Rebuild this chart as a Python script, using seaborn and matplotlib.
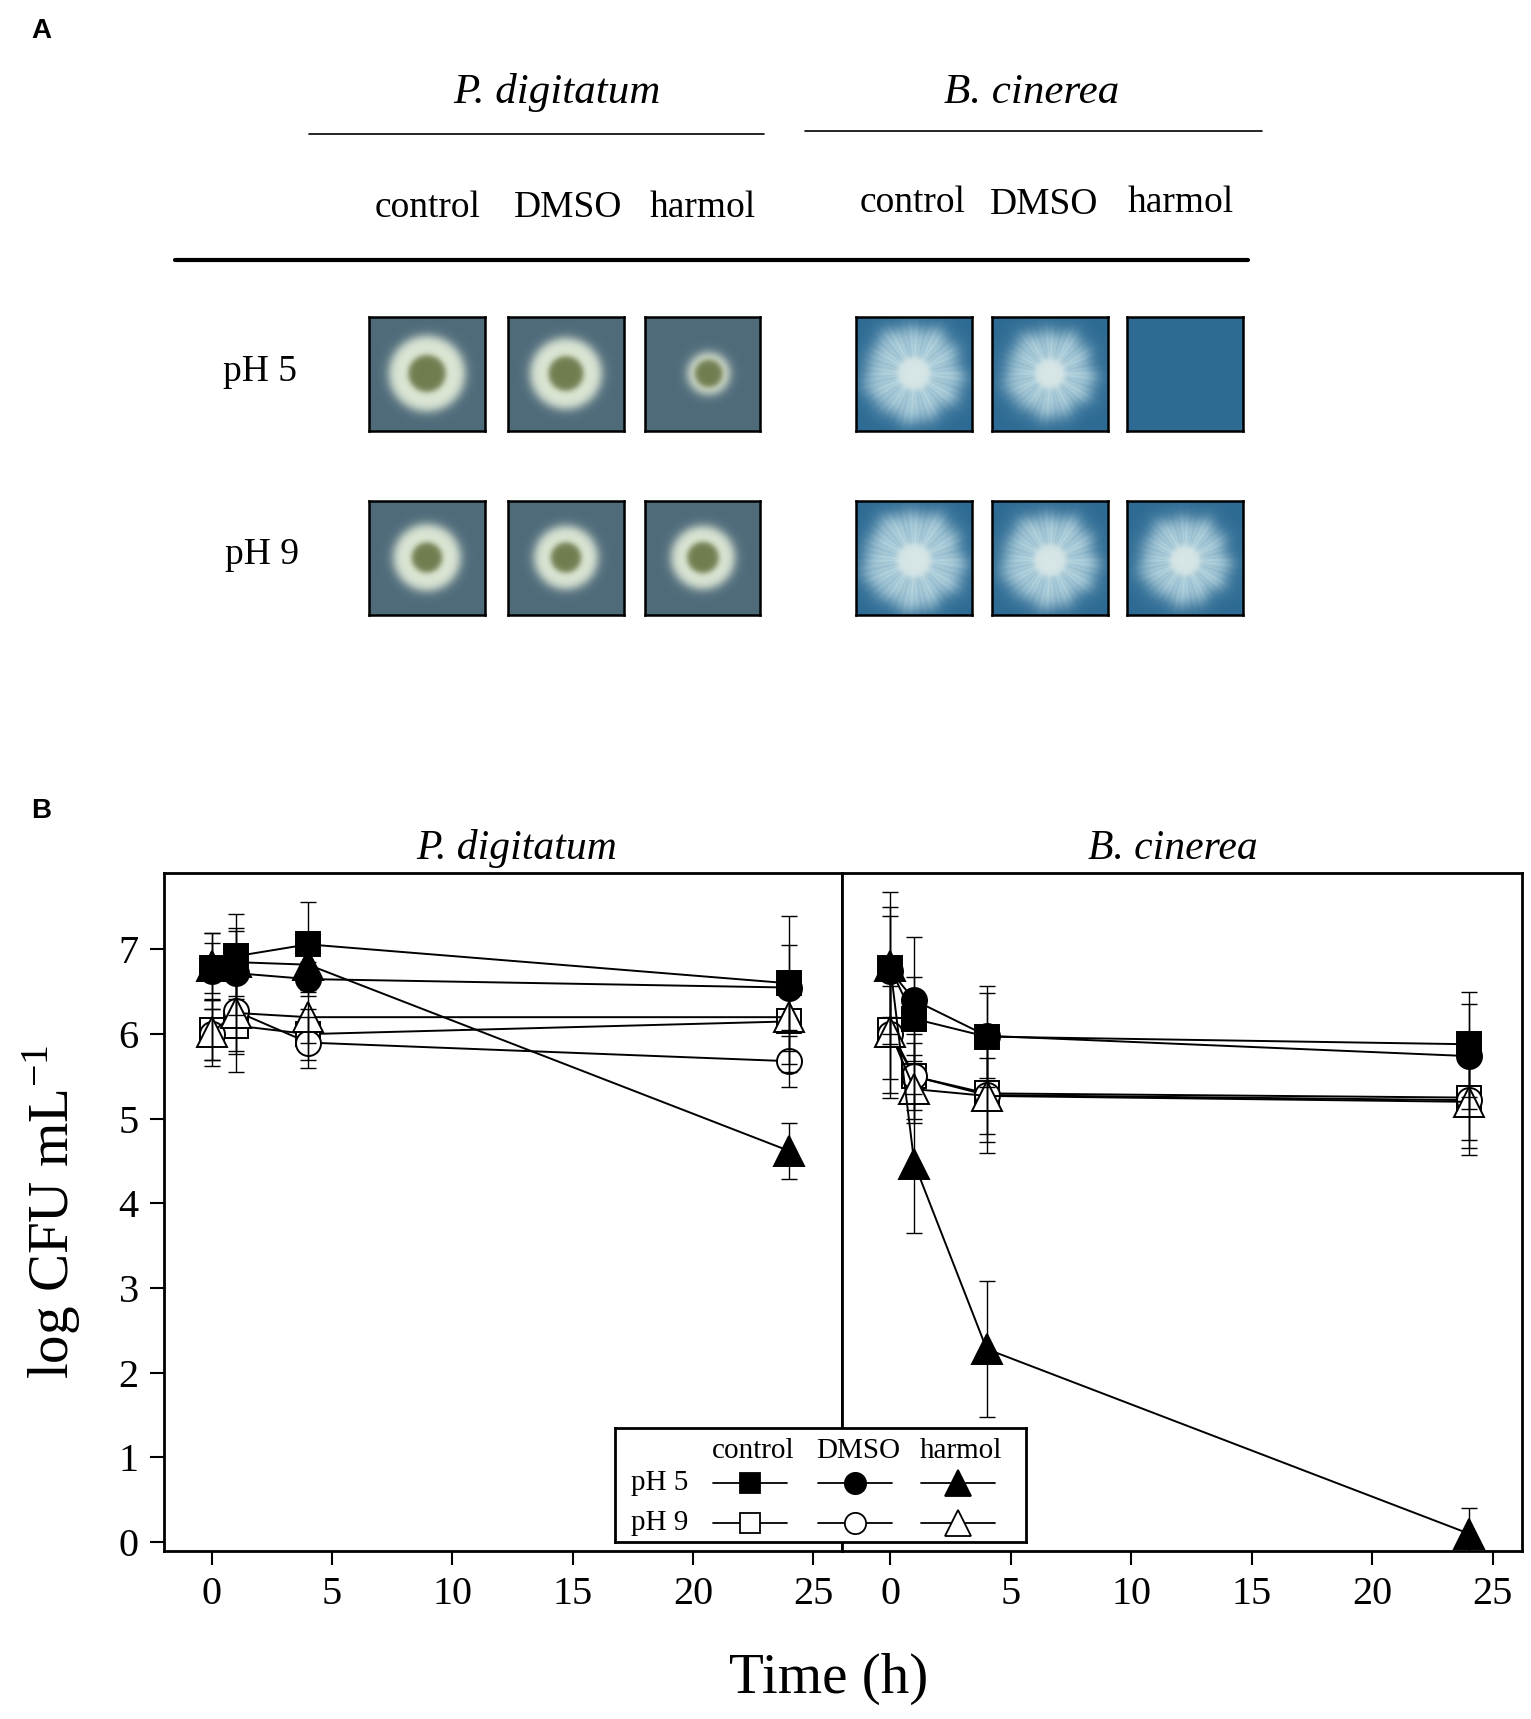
import numpy as np
import pandas as pd
import matplotlib
matplotlib.use("Agg")
import matplotlib.pyplot as plt
import seaborn as sns

sns.set_theme(style="ticks")
plt.rcParams.update({
    "font.family": ["Liberation Serif", "DejaVu Serif"],
    "mathtext.fontset": "stix",
    "axes.edgecolor": "black",
    "axes.linewidth": 2,
    "text.color": "black",
    "axes.labelcolor": "black",
    "xtick.color": "black",
    "ytick.color": "black",
})

# ---- data (log CFU/mL) ----
times = [0, 1, 4, 24]
treatments = ["control", "DMSO", "harmol"]
ph_levels = ["pH 5", "pH 9"]

pd_ctrl5 = [6.78, 6.92, 7.06, 6.60]
pd_dmso5 = [6.75, 6.72, 6.65, 6.55]
pd_harm5 = [6.80, 6.85, 6.82, 4.62]
pd_ctrl9 = [6.05, 6.10, 6.00, 6.15]
pd_dmso9 = [6.00, 6.27, 5.90, 5.68]
pd_harm9 = [6.02, 6.25, 6.20, 6.20]
pd_ctrl5_err = [0.30, 0.50, 0.50, 0.80]
pd_dmso5_err = [0.45, 0.50, 0.20, 0.50]
pd_harm5_err = [0.40, 0.40, 0.30, 0.33]
pd_ctrl9_err = [0.35, 0.55, 0.30, 0.60]
pd_dmso9_err = [0.30, 0.50, 0.30, 0.30]
pd_harm9_err = [0.40, 0.45, 0.30, 0.55]

bc_ctrl5 = [6.78, 6.18, 5.97, 5.88]
bc_dmso5 = [6.75, 6.40, 5.98, 5.74]
bc_harm5 = [6.80, 4.47, 2.28, 0.10]
bc_ctrl9 = [6.05, 5.50, 5.30, 5.25]
bc_dmso9 = [6.00, 5.50, 5.28, 5.22]
bc_harm9 = [6.02, 5.35, 5.27, 5.20]
bc_ctrl5_err = [0.90, 0.50, 0.60, 0.62]
bc_dmso5_err = [0.75, 0.75, 0.50, 0.62]
bc_harm5_err = [0.60, 0.82, 0.80, 0.30]
bc_ctrl9_err = [0.80, 0.40, 0.70, 0.60]
bc_dmso9_err = [0.70, 0.50, 0.55, 0.65]
bc_harm9_err = [0.55, 0.40, 0.45, 0.45]

# colony radii on the plate photos (fraction of half width), row pH5 then pH9
pd_colony_outer = [[0.66, 0.62, 0.36], [0.58, 0.55, 0.55]]
pd_colony_core = [[0.32, 0.30, 0.24], [0.26, 0.26, 0.27]]
bc_colony = [[0.82, 0.75, 0.0], [0.85, 0.80, 0.75]]

rows = []
for org, series in [
    ("P. digitatum", [(pd_ctrl5, pd_ctrl5_err), (pd_dmso5, pd_dmso5_err), (pd_harm5, pd_harm5_err),
                      (pd_ctrl9, pd_ctrl9_err), (pd_dmso9, pd_dmso9_err), (pd_harm9, pd_harm9_err)]),
    ("B. cinerea", [(bc_ctrl5, bc_ctrl5_err), (bc_dmso5, bc_dmso5_err), (bc_harm5, bc_harm5_err),
                    (bc_ctrl9, bc_ctrl9_err), (bc_dmso9, bc_dmso9_err), (bc_harm9, bc_harm9_err)]),
]:
    for k, (vals, errs) in enumerate(series):
        for t, v, e in zip(times, vals, errs):
            rows.append({"org": org, "ph": ph_levels[k // 3], "trt": treatments[k % 3],
                         "time": t, "cfu": v, "err": e})
df = pd.DataFrame(rows)

markers = {"control": "s", "DMSO": "o", "harmol": "^"}
msizes = {"control": 17, "DMSO": 18, "harmol": 22}
faces = {"pH 5": "black", "pH 9": "white"}

fig = plt.figure(figsize=(15.31, 17.19), dpi=100)

# ---- panel A (drawn in figure fractions) ----
bg = fig.add_axes([0, 0, 1, 1])
bg.set_xlim(0, 1)
bg.set_ylim(0, 1)
bg.axis("off")

fig.text(0.027, 0.982, "A", fontsize=20, fontweight="bold", family="Liberation Sans", ha="center", va="center")
fig.text(0.027, 0.528, "B", fontsize=20, fontweight="bold", family="Liberation Sans", ha="center", va="center")

fig.text(0.364, 0.946, "P. digitatum", fontsize=31, style="italic", ha="center", va="center")
fig.text(0.674, 0.946, "B. cinerea", fontsize=31, style="italic", ha="center", va="center")
bg.plot([0.202, 0.499], [0.922, 0.922], color="black", lw=1.2)
bg.plot([0.526, 0.824], [0.924, 0.924], color="black", lw=1.2)
bg.plot([0.114, 0.815], [0.849, 0.849], color="black", lw=3)

col_x = [0.279, 0.371, 0.459, 0.596, 0.682, 0.771]
col_y = [0.879, 0.879, 0.879, 0.882, 0.881, 0.882]
for x, y, lab in zip(col_x, col_y, treatments * 2):
    fig.text(x, y, lab, fontsize=27, ha="center", va="center")
fig.text(0.170, 0.784, "pH 5", fontsize=27, ha="center", va="center")
fig.text(0.171, 0.677, "pH 9", fontsize=27, ha="center", va="center")


def plate(bg_col, ring_col, core_col, r_out, r_core, fuzz, cx=0.0, cy=0.0, streaks=0.0, n=160):
    yy, xx = np.mgrid[-1:1:n * 1j, -1:1:n * 1j]
    r = np.hypot(xx - cx, yy - cy)
    th = np.arctan2(yy - cy, xx - cx)
    img = np.ones((n, n, 3)) * np.array(bg_col)
    if r_out > 0:
        edge = r_out * (1 + streaks * (np.sin(5 * th) + 0.6 * np.sin(11 * th + 1.0)))
        w = 1 / (1 + np.exp((r - edge) / fuzz))
        if streaks > 0:
            w = w * (0.9 + 0.1 * np.cos(17 * th + 0.5) * np.cos(29 * th))
        img = img * (1 - w[..., None]) + np.array(ring_col) * w[..., None]
    if r_core > 0:
        w = 1 / (1 + np.exp((r - r_core) / 0.03))
        img = img * (1 - w[..., None]) + np.array(core_col) * w[..., None]
    return np.clip(img, 0, 1)


photo_x = [0.241, 0.332, 0.421, 0.559, 0.648, 0.736]
photo_y = [0.749, 0.642]
pw, ph = 0.0757, 0.0668
for i, y0 in enumerate(photo_y):
    for j, x0 in enumerate(photo_x):
        pax = fig.add_axes([x0, y0, pw, ph])
        if j < 3:
            cx = 0.1 if (i == 0 and j == 2) else 0.0
            img = plate((0.31, 0.42, 0.48), (0.87, 0.91, 0.84), (0.44, 0.49, 0.31),
                        pd_colony_outer[i][j], pd_colony_core[i][j], 0.05, cx=cx)
        else:
            img = plate((0.18, 0.42, 0.58), (0.72, 0.84, 0.88), (0.84, 0.90, 0.90),
                        bc_colony[i][j - 3], bc_colony[i][j - 3] * 0.35, 0.09,
                        cy=0.05 if i == 1 else 0.0, streaks=0.035)
        pax.imshow(img, aspect="auto")
        pax.set_xticks([])
        pax.set_yticks([])
        for s in pax.spines.values():
            s.set_linewidth(1.8)

# ---- panel B ----
axL = fig.add_axes([0.107, 0.098, 0.443, 0.394])
axR = fig.add_axes([0.550, 0.098, 0.444, 0.394])

for ax, org, tx in [(axL, "P. digitatum", 0.52), (axR, "B. cinerea", 0.487)]:
    sub = df[df["org"] == org]
    for ph_lab in ["pH 9", "pH 5"]:
        for trt in treatments:
            s = sub[(sub["ph"] == ph_lab) & (sub["trt"] == trt)]
            sns.lineplot(data=s, x="time", y="cfu", ax=ax, color="black", lw=1.4,
                         marker=markers[trt], markersize=msizes[trt],
                         markerfacecolor=faces[ph_lab], markeredgecolor="black",
                         markeredgewidth=1.4, estimator=None, errorbar=None,
                         legend=False, zorder=3)
            ax.errorbar(s["time"], s["cfu"], yerr=s["err"], fmt="none", ecolor="black",
                        elinewidth=1.0, capsize=6, capthick=1.0, zorder=4)
    ax.set_xlim(-2, 26.2)
    ax.set_ylim(-0.1, 7.9)
    ax.set_xticks([0, 5, 10, 15, 20, 25])
    ax.set_xlabel("")
    ax.set_ylabel("")
    ax.set_title(org, fontsize=30, style="italic", pad=10, x=tx)
    ax.tick_params(axis="both", direction="out", length=10, width=1.5, labelsize=29, pad=8)
    for s in ax.spines.values():
        s.set_visible(True)
        s.set_linewidth(2)

axL.set_yticks(range(0, 8))
axR.set_yticks([])

fig.text(0.034, 0.295, r"log CFU mL$^{\mathregular{-1}}$", fontsize=41, rotation=90,
         ha="center", va="center")
fig.text(0.541, 0.0235, "Time (h)", fontsize=41, ha="center", va="center")

# ---- custom legend box ----
lg = fig.add_axes([0.402, 0.103, 0.268, 0.066])
lg.set_xlim(0, 1)
lg.set_ylim(0, 1)
lg.set_xticks([])
lg.set_yticks([])
lg.set_facecolor("white")
for s in lg.spines.values():
    s.set_linewidth(2)
leg_cx = [0.328, 0.584, 0.835]
leg_ry = [0.52, 0.17]
for cx, trt in zip(leg_cx, treatments):
    lg.text(cx + 0.008, 0.80, trt, fontsize=21, ha="center", va="center")
    for ry, ph_lab in zip(leg_ry, ph_levels):
        lg.plot([cx - 0.09, cx, cx + 0.09], [ry, ry, ry], color="black", lw=1.3,
                marker=markers[trt], markevery=[1], markersize=msizes[trt] * 0.85,
                markerfacecolor=faces[ph_lab], markeredgecolor="black", markeredgewidth=1.3)
for ry, ph_lab in zip(leg_ry, ph_levels):
    lg.text(0.107, ry, ph_lab, fontsize=21, ha="center", va="center")

fig.savefig("out.png", dpi=100)
